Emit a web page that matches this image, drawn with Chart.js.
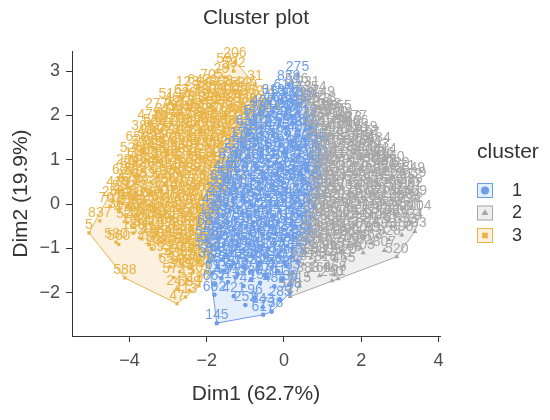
<!DOCTYPE html>
<html>
<head>
<meta charset="utf-8">
<script src="https://cdn.jsdelivr.net/npm/chart.js@4.4.1/dist/chart.umd.min.js"></script>
<style>
  html, body { margin: 0; padding: 0; background: #fff; }
  #wrap { width: 550px; height: 420px; position: relative; }
</style>
</head>
<body>
<div id="wrap"><canvas id="clusterChart"></canvas></div>
<script>
const xTicks = [-4, -2, 0, 2, 4];
const yTicks = [-2, -1, 0, 1, 2, 3];
const clusterNames = ['1', '2', '3'];
const clusterColors = ['#6E9EE8', '#A6A6A6', '#E8B448'];
const clusterFills = ['rgba(110,158,232,0.18)', 'rgba(166,166,166,0.18)', 'rgba(232,180,72,0.18)'];
const clusterShapes = ['circle', 'triangle', 'rect'];

// [Dim1, Dim2, observation id]
const cluster1 = [
  [0.35,2.92,275],[0.12,2.70,838],
  [-0.28,2.40,318],[0.02,2.50,611],[0.30,2.45,47],[0.50,2.33,729],
  [-0.55,2.15,402],[-0.20,2.22,156],[0.10,2.15,683],[0.40,2.25,298],
  [-0.75,1.92,527],[-0.45,1.98,81],[-0.10,1.90,740],[0.20,1.98,365],[0.55,1.92,219],
  [-0.95,1.68,634],[-0.60,1.74,412],[-0.30,1.66,93],[0.05,1.72,556],[0.38,1.66,287],[0.68,1.72,801],
  [-1.10,1.42,174],[-0.78,1.48,692],[-0.45,1.40,338],[-0.12,1.46,505],[0.20,1.42,61],[0.52,1.48,776],[0.80,1.40,248],
  [-1.25,1.18,227],[-0.92,1.24,459],[-0.60,1.16,713],[-0.28,1.22,132],[0.05,1.18,584],[0.38,1.24,307],[0.70,1.16,669],[0.92,1.22,45],
  [-1.40,0.94,829],[-1.08,0.98,376],[-0.75,0.92,251],[-0.42,0.98,618],[-0.10,0.92,84],[0.22,0.98,497],[0.55,0.90,732],[0.88,0.96,193],
  [-1.52,0.68,444],[-1.20,0.74,609],[-0.88,0.66,18],[-0.55,0.72,355],[-0.22,0.68,788],[0.10,0.74,262],[0.42,0.66,531],[0.75,0.72,147],
  [-1.62,0.44,694],[-1.30,0.48,302],[-0.98,0.42,571],[-0.65,0.48,126],[-0.32,0.42,817],[0.00,0.48,433],[0.32,0.42,69],[0.62,0.48,654],[0.90,0.44,381],
  [-1.72,0.18,235],[-1.40,0.24,758],[-1.08,0.16,491],[-0.75,0.22,12],[-0.42,0.18,603],[-0.10,0.24,347],[0.22,0.16,822],[0.55,0.22,168],[0.85,0.18,575],
  [-1.82,-0.06,416],[-1.50,-0.02,689],[-1.18,-0.08,53],[-0.85,-0.02,294],[-0.52,-0.08,747],[-0.20,-0.02,518],[0.12,-0.08,203],[0.45,-0.02,661],[0.78,-0.06,389],
  [-1.90,-0.32,137],[-1.58,-0.26,562],[-1.25,-0.32,809],[-0.92,-0.26,276],[-0.60,-0.32,445],[-0.28,-0.26,94],[0.05,-0.32,715],[0.38,-0.26,323],[0.70,-0.30,590],
  [-1.95,-0.56,684],[-1.62,-0.52,29],[-1.30,-0.58,467],[-0.98,-0.52,736],[-0.65,-0.58,189],[-0.32,-0.52,542],[0.00,-0.58,371],[0.32,-0.52,826],[0.65,-0.56,115],
  [-2.00,-0.82,598],[-1.68,-0.76,243],[-1.35,-0.82,704],[-1.02,-0.76,386],[-0.70,-0.82,57],[-0.38,-0.76,629],[-0.05,-0.82,413],[0.28,-0.76,795],[0.58,-0.80,266],
  [-1.98,-1.06,533],[-1.70,-1.00,172],[-1.38,-1.08,748],[-1.05,-1.02,309],[-0.72,-1.08,641],[-0.40,-1.00,86],[-0.08,-1.06,457],[0.22,-1.00,712],[0.52,-1.05,198],
  [-1.92,-1.30,375],[-1.62,-1.26,820],[-1.30,-1.34,143],[-0.98,-1.26,586],[-0.65,-1.32,264],[-0.32,-1.26,697],[0.00,-1.32,431],[0.35,-1.28,52],
  [-1.85,-1.56,61],[-1.55,-1.50,615],[-1.20,-1.58,348],[-0.85,-1.52,779],[-0.50,-1.60,207],[-0.15,-1.52,526],[0.22,-1.55,83],
  [-1.80,-1.82,667],[-1.45,-1.76,313],[-1.05,-1.85,742],[-0.62,-1.78,159],[-0.25,-1.86,488],[0.16,-1.80,36],
  [-1.80,-2.05,602],[-1.30,-2.08,421],[-0.75,-2.12,96],[-0.10,-2.17,285],[0.16,-2.00,548],
  [-1.74,-2.69,145],[-0.55,-2.33,843],[-0.54,-2.50,617],[-0.32,-2.43,738],[-1.00,-2.28,252],
  [-0.38,2.30,71],[-0.05,2.34,530],[0.22,2.30,164],
  [-0.62,2.04,377],[-0.28,2.08,709],[0.05,2.03,248],[0.38,2.07,592],
  [-0.78,1.80,119],[-0.45,1.84,455],[-0.12,1.78,806],[0.22,1.84,33],[0.55,1.79,641],
  [-0.92,1.56,283],[-0.60,1.60,514],[-0.28,1.54,178],[0.05,1.59,757],[0.38,1.55,402],[0.68,1.58,96],
  [-1.05,1.30,622],[-0.75,1.33,241],[-0.42,1.28,819],[-0.10,1.32,367],[0.22,1.29,48],[0.55,1.33,700],[0.85,1.30,215],
  [-1.25,1.06,539],[-0.92,1.10,160],[-0.60,1.05,798],[-0.28,1.09,423],[0.05,1.05,66],[0.38,1.10,587],[0.72,1.06,311],
  [-1.38,0.82,747],[-1.05,0.85,209],[-0.72,0.80,652],[-0.40,0.84,391],[-0.08,0.80,27],[0.25,0.84,565],[0.58,0.80,833],[0.85,0.83,140],
  [-1.45,0.57,471],[-1.12,0.60,88],[-0.80,0.55,725],[-0.48,0.59,302],[-0.15,0.55,616],[0.18,0.59,184],[0.50,0.56,759],[0.80,0.58,420],
  [-1.58,0.32,236],[-1.25,0.35,683],[-0.92,0.30,115],[-0.60,0.34,548],[-0.28,0.31,829],[0.05,0.35,357],[0.38,0.30,79],[0.72,0.33,605],
  [-1.65,0.07,414],[-1.32,0.10,762],[-1.00,0.05,197],[-0.68,0.09,630],[-0.35,0.05,276],[-0.02,0.09,511],[0.30,0.05,844],[0.65,0.08,153],
  [-1.72,-0.18,368],[-1.40,-0.15,21],[-1.08,-0.20,579],[-0.75,-0.16,812],[-0.42,-0.20,244],[-0.10,-0.16,690],[0.22,-0.20,431],[0.58,-0.17,102],
  [-1.78,-0.43,657],[-1.45,-0.40,288],[-1.12,-0.45,736],[-0.80,-0.41,54],[-0.48,-0.45,499],[-0.15,-0.41,171],[0.18,-0.45,623],[0.52,-0.42,346],
  [-1.85,-0.68,118],[-1.52,-0.65,594],[-1.20,-0.70,327],[-0.88,-0.66,781],[-0.55,-0.70,206],[-0.22,-0.66,462],[0.12,-0.70,39],[0.45,-0.67,715],
  [-1.88,-0.93,540],[-1.55,-0.90,261],[-1.22,-0.95,803],[-0.90,-0.91,134],[-0.58,-0.95,677],[-0.25,-0.91,395],[0.08,-0.95,568],[0.40,-0.92,222],
  [-1.82,-1.18,749],[-1.48,-1.15,183],[-1.15,-1.20,612],[-0.82,-1.16,298],[-0.48,-1.20,835],[-0.15,-1.16,76],[0.18,-1.20,480],
  [-1.72,-1.42,356],[-1.38,-1.40,707],[-1.02,-1.44,142],[-0.68,-1.40,589],[-0.32,-1.44,233],[0.05,-1.40,661],
  [-1.62,-1.68,42],[-1.25,-1.66,519],[-0.85,-1.70,286],[-0.45,-1.66,776],[-0.05,-1.70,111]
];

const cluster2 = [
  [0.33,2.64,516],[0.62,2.56,231],
  [0.55,2.36,708],[0.80,2.45,354],[1.02,2.34,149],
  [0.62,2.12,582],[0.90,2.18,273],[1.19,2.08,398],[1.45,2.02,655],
  [0.68,1.88,41],[0.98,1.94,827],[1.28,1.86,312],[1.58,1.86,58],[1.85,1.80,477],
  [0.78,1.64,593],[1.08,1.70,204],[1.38,1.62,737],[1.68,1.66,390],[1.89,1.68,166],[2.12,1.55,619],
  [0.85,1.38,455],[1.15,1.44,72],[1.45,1.36,681],[1.75,1.42,236],[2.05,1.36,514],[2.28,1.42,97],[2.46,1.30,184],
  [0.92,1.14,349],[1.22,1.18,767],[1.52,1.10,128],[1.82,1.16,540],[2.12,1.10,299],[2.42,1.16,703],[2.62,1.05,414],
  [0.95,0.88,639],[1.25,0.94,183],[1.55,0.86,572],[1.85,0.92,26],[2.15,0.86,490],[2.45,0.92,815],[2.62,0.80,247],[2.82,0.87,360],
  [0.94,0.62,333],[1.25,0.68,592],[1.55,0.60,114],[1.88,0.66,760],[2.20,0.60,428],[2.50,0.66,65],[2.82,0.60,698],[3.10,0.68,271],[3.35,0.62,549],
  [0.92,0.38,808],[1.22,0.44,392],[1.52,0.36,171],[1.85,0.42,623],[2.15,0.36,284],[2.48,0.42,745],[2.80,0.36,506],[3.19,0.35,88],[3.48,0.52,39],
  [0.90,0.14,213],[1.20,0.18,664],[1.50,0.10,437],[1.82,0.16,16],[2.12,0.10,578],[2.45,0.16,325],[2.78,0.10,791],[3.08,0.16,152],[3.40,0.12,469],
  [0.85,-0.12,687],[1.15,-0.06,259],[1.45,-0.14,524],[1.78,-0.08,803],[2.10,-0.14,117],[2.42,-0.08,366],[2.75,-0.14,631],[3.05,-0.08,489],[3.30,-0.05,222],[3.52,-0.24,104],
  [0.80,-0.36,543],[1.10,-0.30,295],[1.40,-0.38,726],[1.72,-0.32,64],[2.05,-0.38,417],[2.38,-0.32,852],[2.70,-0.40,190],[3.00,-0.34,601],[3.30,-0.42,334],
  [0.72,-0.62,478],[1.02,-0.56,139],[1.32,-0.64,761],[1.62,-0.58,303],[1.95,-0.64,569],[2.28,-0.58,24],[2.60,-0.64,685],[3.05,-0.70,395],[3.39,-0.62,833],
  [0.65,-0.86,246],[0.95,-0.80,711],[1.25,-0.88,377],[1.55,-0.82,596],[1.85,-0.90,153],[2.25,-0.88,463],[2.60,-1.05,807],[2.92,-1.19,520],
  [0.58,-1.10,328],[0.88,-1.06,774],[1.18,-1.14,99],[1.48,-1.08,651],[1.71,-1.16,168],[2.05,-1.10,403],
  [0.50,-1.36,587],[0.80,-1.30,233],[1.08,-1.38,818],[1.32,-1.60,468],[1.55,-1.40,465],
  [1.24,-1.73,290],[1.40,-1.69,91],[0.16,-2.09,727],[0.62,-1.62,388],[0.40,-1.85,515],[0.92,-1.62,163],
  [0.75,2.25,602],[1.05,2.22,318],
  [0.80,2.00,754],[1.10,2.04,189],[1.35,1.97,436],
  [0.85,1.76,57],[1.15,1.80,671],[1.45,1.74,295],[1.72,1.77,813],
  [0.95,1.51,224],[1.25,1.55,540],[1.55,1.49,87],[1.88,1.53,629],[2.15,1.46,372],
  [1.05,1.26,741],[1.35,1.30,167],[1.65,1.25,508],[1.95,1.29,263],[2.25,1.24,691],
  [1.08,1.02,416],[1.38,1.05,32],[1.70,1.00,785],[2.00,1.04,350],[2.30,1.00,598],[2.55,0.97,146],
  [1.10,0.77,823],[1.40,0.80,279],[1.70,0.75,657],[2.00,0.79,101],[2.30,0.74,534],[2.62,0.78,388],[2.95,0.74,720],
  [1.08,0.52,195],[1.38,0.55,612],[1.70,0.50,350],[2.02,0.54,767],[2.35,0.50,241],[2.65,0.54,485],[2.98,0.50,129],[3.28,0.50,672],
  [1.05,0.27,534],[1.35,0.30,80],[1.68,0.25,703],[2.00,0.29,318],[2.32,0.25,846],[2.62,0.29,176],[2.95,0.25,591],[3.30,0.28,262],
  [1.02,0.02,447],[1.32,0.05,821],[1.62,0.00,138],[1.95,0.04,569],[2.28,0.00,293],[2.60,0.04,712],[2.92,0.00,55],[3.22,0.04,384],
  [0.98,-0.23,628],[1.28,-0.20,247],[1.60,-0.25,796],[1.92,-0.21,431],[2.25,-0.25,108],[2.58,-0.21,553],[2.88,-0.25,339],[3.18,-0.22,781],
  [0.90,-0.48,177],[1.22,-0.45,609],[1.52,-0.50,382],[1.85,-0.46,745],[2.15,-0.50,221],[2.45,-0.46,498],[2.78,-0.50,67],[3.15,-0.52,653],
  [0.85,-0.73,533],[1.15,-0.70,286],[1.45,-0.75,719],[1.75,-0.71,142],[2.05,-0.75,604],[2.40,-0.72,357],[2.72,-0.80,828],
  [0.75,-0.98,411],[1.05,-0.95,66],[1.35,-1.00,757],[1.65,-0.96,203],[1.98,-1.00,582],
  [0.70,-1.22,314],[1.00,-1.20,689],[1.30,-1.25,158],[1.58,-1.22,520]
];

const cluster3 = [
  [-1.27,3.22,206],[-1.45,3.08,597],[-1.30,3.00,592],
  [-1.52,2.86,297],[-1.87,2.72,705],
  [-2.50,2.56,123],[-2.20,2.62,642],[-1.95,2.55,387],[-1.62,2.60,208],[-1.30,2.55,753],[-1.00,2.58,446],[-0.75,2.70,31],
  [-2.95,2.30,519],[-2.65,2.38,67],[-2.35,2.32,286],[-2.05,2.38,730],[-1.75,2.30,161],[-1.45,2.36,399],[-1.12,2.28,316],[-0.82,2.36,352],[-0.54,2.35,614],
  [-3.30,2.08,277],[-2.85,2.14,17],[-2.70,2.04,591],[-2.42,2.14,135],[-2.12,2.06,810],[-1.82,2.12,456],[-1.52,2.04,73],[-1.22,2.10,682],[-0.92,2.04,239],[-0.60,2.10,528],[-0.40,2.00,344],
  [-3.50,1.82,471],[-3.20,1.88,98],[-2.90,1.80,656],[-2.60,1.88,205],[-2.30,1.80,778],[-2.00,1.86,342],[-1.70,1.78,567],[-1.40,1.86,129],[-1.10,1.80,716],[-0.80,1.86,452],
  [-3.65,1.58,381],[-3.35,1.64,604],[-3.05,1.56,27],[-2.75,1.62,743],[-2.45,1.56,195],[-2.15,1.64,568],[-1.85,1.56,310],[-1.55,1.62,832],[-1.25,1.56,476],[-0.95,1.62,221],
  [-3.80,1.32,652],[-3.47,1.38,188],[-3.15,1.30,417],[-2.85,1.38,76],[-2.55,1.30,539],[-2.25,1.36,291],[-1.95,1.30,764],[-1.65,1.36,148],[-1.35,1.30,603],[-1.08,1.36,337],
  [-3.95,1.08,525],[-3.65,1.14,214],[-3.35,1.06,686],[-3.05,1.12,359],[-2.75,1.05,58],[-2.45,1.12,497],[-2.15,1.06,822],[-1.85,1.12,174],[-1.55,1.06,631],[-1.25,1.12,405],
  [-4.05,0.82,284],[-3.73,0.88,8],[-3.42,0.80,749],[-3.12,0.86,432],[-2.82,0.80,116],[-2.52,0.88,578],[-2.22,0.80,263],[-1.92,0.86,695],[-1.62,0.80,354],[-1.38,0.88,512],
  [-4.15,0.58,607],[-3.85,0.64,342],[-3.73,0.50,35],[-3.25,0.62,781],[-2.95,0.56,224],[-2.65,0.64,463],[-2.35,0.56,139],[-2.05,0.62,819],[-1.75,0.56,376],[-1.50,0.62,548],
  [-4.30,0.32,413],[-4.00,0.38,672],[-3.60,0.34,293],[-3.20,0.30,19],[-2.90,0.38,556],[-2.60,0.30,187],[-2.30,0.36,728],[-2.00,0.30,345],[-1.72,0.36,619],[-1.55,0.26,92],
  [-4.42,0.08,258],[-4.20,0.02,754],[-3.90,0.12,481],[-3.60,0.06,169],[-3.30,0.12,640],[-3.00,0.05,318],[-2.70,0.12,793],[-2.40,0.06,46],[-2.10,0.12,574],[-1.80,0.06,233],
  [-4.50,-0.05,701],[-4.25,-0.18,362],[-3.95,-0.12,125],[-3.65,-0.20,584],[-3.35,-0.12,271],[-3.05,-0.18,835],[-2.75,-0.12,407],[-2.45,-0.20,153],[-2.15,-0.12,666],[-1.88,-0.18,394],
  [-4.05,-0.42,522],[-3.75,-0.36,197],[-3.45,-0.44,768],[-3.15,-0.38,301],[-2.85,-0.44,615],[-2.55,-0.36,74],[-2.25,-0.44,449],[-1.95,-0.40,830],
  [-3.90,-0.66,186],[-3.60,-0.60,547],[-3.30,-0.68,12],[-3.00,-0.62,693],[-2.70,-0.68,328],[-2.40,-0.60,761],[-2.10,-0.66,239],
  [-3.50,-0.92,438],[-3.20,-0.86,105],[-2.90,-0.94,657],[-2.60,-0.88,282],[-2.30,-0.94,814],[-2.02,-0.88,371],
  [-3.20,-1.16,593],[-2.90,-1.10,216],[-2.60,-1.18,744],[-2.30,-1.12,81],[-2.05,-1.20,427],
  [-2.95,-1.42,654],[-2.68,-1.36,133],[-2.40,-1.44,798],[-2.12,-1.38,306],
  [-2.85,-1.66,572],[-2.50,-1.70,15],[-2.20,-1.62,463],
  [-2.75,-1.92,241],[-2.45,-1.95,689],[-2.20,-1.85,127],
  [-2.77,-2.25,47],[-2.55,-2.10,413],
  [-5.05,-0.65,5],[-4.77,-0.38,837],[-4.35,-0.86,580],[-4.28,-0.91,560],[-4.12,-1.67,588],[-3.43,-1.00,16],
  [-2.05,2.48,720],[-1.75,2.46,251],[-1.45,2.48,585],[-1.15,2.44,134],
  [-2.80,2.22,462],[-2.50,2.25,79],[-2.20,2.21,617],[-1.90,2.24,293],[-1.60,2.20,848],[-1.30,2.23,175],[-1.00,2.19,536],
  [-3.05,1.97,311],[-2.75,2.00,694],[-2.45,1.96,142],[-2.15,1.99,583],[-1.85,1.95,257],[-1.55,1.98,730],[-1.25,1.94,406],[-0.95,1.97,61],
  [-3.35,1.72,528],[-3.05,1.75,215],[-2.75,1.71,776],[-2.45,1.74,339],[-2.15,1.70,94],[-1.85,1.73,657],[-1.55,1.69,283],[-1.25,1.72,815],
  [-3.50,1.47,446],[-3.20,1.50,107],[-2.90,1.46,639],[-2.60,1.49,372],[-2.30,1.45,820],[-2.00,1.48,191],[-1.70,1.44,562],[-1.40,1.47,228],
  [-3.65,1.22,733],[-3.35,1.25,264],[-3.05,1.21,598],[-2.75,1.24,49],[-2.45,1.20,487],[-2.15,1.23,806],[-1.85,1.19,355],[-1.55,1.22,671],
  [-3.85,0.97,118],[-3.55,1.00,543],[-3.25,0.96,289],[-2.95,0.99,762],[-2.65,0.95,431],[-2.35,0.98,86],[-2.05,0.94,614],[-1.75,0.97,327],
  [-3.95,0.72,690],[-3.65,0.75,238],[-3.35,0.71,571],[-3.05,0.74,812],[-2.75,0.70,154],[-2.45,0.73,503],[-2.15,0.69,279],[-1.85,0.72,746],
  [-4.05,0.47,396],[-3.45,0.50,832],[-3.10,0.46,127],[-2.80,0.49,661],[-2.50,0.45,345],[-2.20,0.48,78],[-1.90,0.44,589],[-1.62,0.47,216],
  [-4.15,0.22,552],[-3.85,0.25,183],[-3.45,0.21,727],[-3.05,0.24,446],[-2.75,0.20,92],[-2.45,0.23,635],[-2.15,0.19,301],[-1.85,0.22,784],
  [-4.05,-0.03,341],[-3.75,0.00,692],[-3.45,-0.04,158],[-3.15,-0.01,517],[-2.85,-0.05,823],[-2.55,-0.02,266],[-2.25,-0.06,604],[-1.95,-0.03,131],
  [-4.10,-0.28,475],[-3.80,-0.25,109],[-3.50,-0.30,648],[-3.20,-0.27,386],[-2.90,-0.31,741],[-2.60,-0.28,213],[-2.30,-0.32,559],[-2.00,-0.29,836],
  [-3.90,-0.53,262],[-3.60,-0.50,617],[-3.30,-0.55,175],[-3.00,-0.52,493],[-2.70,-0.56,808],[-2.40,-0.52,341],[-2.10,-0.55,67],
  [-3.70,-0.78,529],[-3.40,-0.75,198],[-3.10,-0.80,734],[-2.80,-0.77,412],[-2.50,-0.81,86],[-2.20,-0.78,655],
  [-3.05,-1.03,301],[-2.75,-1.00,768],[-2.45,-1.05,143],[-2.15,-1.02,582],
  [-2.80,-1.28,436],[-2.50,-1.25,27],[-2.22,-1.29,714],
  [-2.70,-1.53,359],[-2.35,-1.52,806]
];

const clusters = [cluster1, cluster2, cluster3];

// convex hull (monotone chain), like the polygons fviz_cluster draws
function convexHull(pts) {
  const p = pts.map(d => [d[0], d[1]]).sort((a, b) => a[0] - b[0] || a[1] - b[1]);
  const cross = (o, a, b) => (a[0] - o[0]) * (b[1] - o[1]) - (a[1] - o[1]) * (b[0] - o[0]);
  const lower = [], upper = [];
  for (const q of p) {
    while (lower.length >= 2 && cross(lower[lower.length - 2], lower[lower.length - 1], q) <= 0) lower.pop();
    lower.push(q);
  }
  for (let i = p.length - 1; i >= 0; i--) {
    const q = p[i];
    while (upper.length >= 2 && cross(upper[upper.length - 2], upper[upper.length - 1], q) <= 0) upper.pop();
    upper.push(q);
  }
  const h = lower.slice(0, -1).concat(upper.slice(0, -1));
  h.push(h[0]);
  return h;
}

const fontFamily = '"Liberation Sans", Arial, sans-serif';
Chart.defaults.font.family = fontFamily;

const datasets = [];
// points: blue on top, then orange, then gray
const pointOrder = [1, 3, 2];
clusters.forEach((pts, k) => {
  datasets.push({
    label: clusterNames[k],
    data: pts.map(p => ({ x: p[0], y: p[1], id: p[2] })),
    pointStyle: clusterShapes[k],
    pointRadius: k === 1 ? 3 : 2.3,
    backgroundColor: clusterColors[k],
    borderColor: clusterColors[k],
    borderWidth: 0,
    showLine: false,
    order: pointOrder[k],
    isPoints: true,
    cluster: k
  });
});
clusters.forEach((pts, k) => {
  datasets.push({
    label: 'hull ' + clusterNames[k],
    data: convexHull(pts).map(p => ({ x: p[0], y: p[1] })),
    showLine: true,
    fill: false,
    tension: 0,
    borderColor: clusterColors[k],
    borderWidth: 1,
    pointRadius: 0,
    order: 10,
    isHull: true,
    cluster: k
  });
});

const fmtTick = v => (v < 0 ? '\u2212' + Math.abs(v) : String(v));

const hullFill = {
  id: 'hullFill',
  beforeDatasetsDraw(chart) {
    const ctx = chart.ctx, a = chart.chartArea;
    ctx.save();
    ctx.beginPath();
    ctx.rect(a.left, a.top, a.right - a.left, a.bottom - a.top);
    ctx.clip();
    chart.data.datasets.forEach((ds, i) => {
      if (!ds.isHull) return;
      const els = chart.getDatasetMeta(i).data;
      ctx.beginPath();
      els.forEach((el, j) => (j ? ctx.lineTo(el.x, el.y) : ctx.moveTo(el.x, el.y)));
      ctx.closePath();
      ctx.fillStyle = clusterFills[ds.cluster];
      ctx.fill();
    });
    ctx.restore();
  }
};

const pointLabels = {
  id: 'pointLabels',
  afterDatasetsDraw(chart) {
    const ctx = chart.ctx;
    ctx.save();
    ctx.font = '14px ' + fontFamily;
    ctx.textAlign = 'center';
    ctx.textBaseline = 'bottom';
    // orange, then blue, then gray
    [2, 0, 1].forEach(k => {
      const meta = chart.getDatasetMeta(k);
      const ds = chart.data.datasets[k];
      ctx.fillStyle = clusterColors[k];
      meta.data.forEach((el, j) => ctx.fillText(String(ds.data[j].id), el.x, el.y - 1));
    });
    ctx.restore();
  }
};

const clusterLegend = {
  id: 'clusterLegend',
  afterDraw(chart) {
    const ctx = chart.ctx;
    const left = 477;
    ctx.save();
    ctx.fillStyle = '#333';
    ctx.font = '21px ' + fontFamily;
    ctx.textAlign = 'left';
    ctx.textBaseline = 'middle';
    ctx.fillText('cluster', left, 152);
    clusterNames.forEach((name, k) => {
      const top = 183 + k * 22.5;
      ctx.fillStyle = clusterFills[k];
      ctx.strokeStyle = clusterColors[k];
      ctx.lineWidth = 1;
      ctx.fillRect(left, top, 16, 15);
      ctx.strokeRect(left + 0.5, top + 0.5, 15, 14);
      ctx.fillStyle = clusterColors[k];
      Chart.helpers.drawPoint(ctx, { pointStyle: clusterShapes[k], radius: 4, borderWidth: 0, rotation: 0 }, left + 8, top + 7.5);
      ctx.fillStyle = '#333';
      ctx.font = '18px ' + fontFamily;
      ctx.fillText(name, left + 35, top + 8);
    });
    ctx.restore();
  }
};

new Chart(document.getElementById('clusterChart'), {
  type: 'scatter',
  data: { datasets },
  options: {
    responsive: true,
    maintainAspectRatio: false,
    animation: false,
    layout: { padding: { right: 110 } },
    plugins: {
      legend: { display: false },
      tooltip: { enabled: false },
      title: {
        display: true,
        text: 'Cluster plot',
        fullSize: false,
        color: '#333',
        font: { size: 21, weight: 'normal' },
        padding: { top: 6, bottom: 20 }
      }
    },
    scales: {
      x: {
        type: 'linear',
        min: -5.49,
        max: 4.04,
        afterBuildTicks: s => { s.ticks = xTicks.map(v => ({ value: v })); },
        afterFit: s => { s.height = 84; },
        ticks: { callback: fmtTick, color: '#4d4d4d', font: { size: 18 }, padding: 8, maxRotation: 0 },
        grid: { drawOnChartArea: false, drawTicks: true, tickLength: 6, color: '#333' },
        border: { display: true, color: '#333', width: 1 },
        title: { display: true, text: 'Dim1 (62.7%)', color: '#333', font: { size: 21 }, padding: { top: 0, bottom: 13 } }
      },
      y: {
        type: 'linear',
        min: -2.98,
        max: 3.45,
        afterBuildTicks: s => { s.ticks = yTicks.map(v => ({ value: v })); },
        afterFit: s => { s.width = 72; },
        ticks: { callback: fmtTick, color: '#4d4d4d', font: { size: 18 }, padding: 6 },
        grid: { drawOnChartArea: false, drawTicks: true, tickLength: 6, color: '#333' },
        border: { display: true, color: '#333', width: 1 },
        title: { display: true, text: 'Dim2 (19.9%)', color: '#333', font: { size: 21 }, padding: { top: 9, bottom: 0 } }
      }
    }
  },
  plugins: [hullFill, pointLabels, clusterLegend]
});
</script>
</body>
</html>
